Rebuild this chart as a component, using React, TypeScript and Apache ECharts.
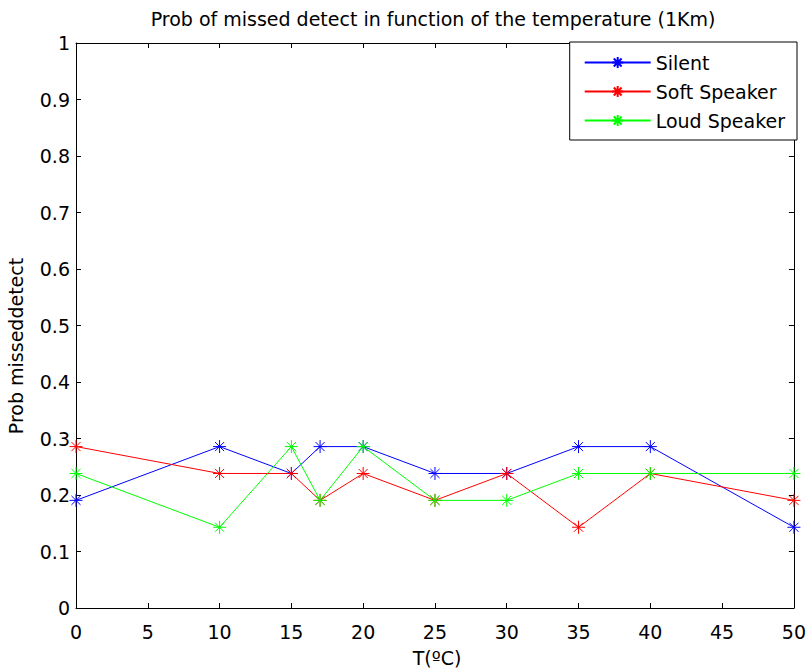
import React, { useEffect, useRef } from "react";
import * as echarts from "echarts";

const temperatures = [0, 10, 15, 17, 20, 25, 30, 35, 40, 50];
const silent = [0.1905, 0.2857, 0.2381, 0.2857, 0.2857, 0.2381, 0.2381, 0.2857, 0.2857, 0.1429];
const softSpeaker = [0.2857, 0.2381, 0.2381, 0.1905, 0.2381, 0.1905, 0.2381, 0.1429, 0.2381, 0.1905];
const loudSpeaker = [0.2381, 0.1429, 0.2857, 0.1905, 0.2857, 0.1905, 0.1905, 0.2381, 0.2381, 0.2381];
const seriesNames = ["Silent", "Soft Speaker", "Loud Speaker"];
const seriesColors = ["#0000ff", "#ff0000", "#00ff00"];
const titleText = "Prob of missed detect in function of the temperature (1Km)";
const xAxisName = "T(ºC)";
const yAxisName = "Prob misseddetect";

const FONT = "DejaVu Sans";
const FS = 19;
const ASTERISK = "path://M5,0L5,10M0,5L10,5M1.5,1.5L8.5,8.5M1.5,8.5L8.5,1.5";

export default function App() {
  const ref = useRef<HTMLDivElement>(null);
  useEffect(() => {
    if (!ref.current) return;
    const chart = echarts.init(ref.current, undefined, { renderer: "svg" });
    const allSeries = [silent, softSpeaker, loudSpeaker];
    const axisCommon = {
      axisLine: { show: true, onZero: false, lineStyle: { color: "#000", width: 1 } },
      axisTick: { show: true, inside: true, length: 5, lineStyle: { color: "#000" } },
      splitLine: { show: false },
    };
    chart.setOption({
      animation: false,
      backgroundColor: "#fff",
      textStyle: { fontFamily: FONT },
      grid: { left: 76, right: 9, top: 43, bottom: 62, containLabel: false },
      xAxis: [
        {
          type: "value", min: 0, max: 50, interval: 5, position: "bottom",
          ...axisCommon,
          axisLabel: { show: true, margin: 14, color: "#000", fontSize: FS, fontFamily: FONT },
        },
        {
          type: "value", min: 0, max: 50, interval: 5, position: "top",
          ...axisCommon,
          axisLabel: { show: false },
        },
      ],
      yAxis: [
        {
          type: "value", min: 0, max: 1, interval: 0.1, position: "left",
          ...axisCommon,
          axisLabel: {
            show: true, margin: 6, color: "#000", fontSize: FS, fontFamily: FONT,
            formatter: (v: number) => String(Math.round(v * 10) / 10),
          },
        },
        {
          type: "value", min: 0, max: 1, interval: 0.1, position: "right",
          ...axisCommon,
          axisLabel: { show: false },
        },
      ],
      legend: {
        show: true,
        orient: "vertical",
        right: 12,
        top: 42,
        padding: [10, 12, 9, 14],
        itemWidth: 66,
        itemHeight: 14,
        itemGap: 8,
        backgroundColor: "#fff",
        borderColor: "#000",
        borderWidth: 1,
        borderRadius: 0,
        textStyle: { color: "#000", fontSize: FS, fontFamily: FONT, lineHeight: 21 },
        data: seriesNames,
      },
      graphic: [
        {
          type: "text", x: 433, y: 19,
          style: { text: titleText, fill: "#000", font: `${FS}px "${FONT}"`, textAlign: "center", textVerticalAlign: "middle" },
        },
        {
          type: "text", x: 437, y: 658,
          style: { text: xAxisName, fill: "#000", font: `${FS}px "${FONT}"`, textAlign: "center", textVerticalAlign: "middle" },
        },
        {
          type: "text", x: 16, y: 346, rotation: Math.PI / 2,
          style: { text: yAxisName, fill: "#000", font: `${FS}px "${FONT}"`, textAlign: "center", textVerticalAlign: "middle" },
        },
      ],
      series: seriesNames.map((name, i) => ({
        name,
        type: "line",
        xAxisIndex: 0,
        yAxisIndex: 0,
        data: temperatures.map((t, j) => [t, allSeries[i][j]]),
        symbol: ASTERISK,
        symbolSize: 13,
        showSymbol: true,
        lineStyle: { color: seriesColors[i], width: 1 },
        itemStyle: { color: seriesColors[i], borderColor: seriesColors[i], borderWidth: 1 },
        emphasis: { disabled: true },
      })),
    });
    return () => chart.dispose();
  }, []);
  return <div ref={ref} style={{ position: "fixed", left: 0, top: 0, width: 809, height: 670 }} />;
}
